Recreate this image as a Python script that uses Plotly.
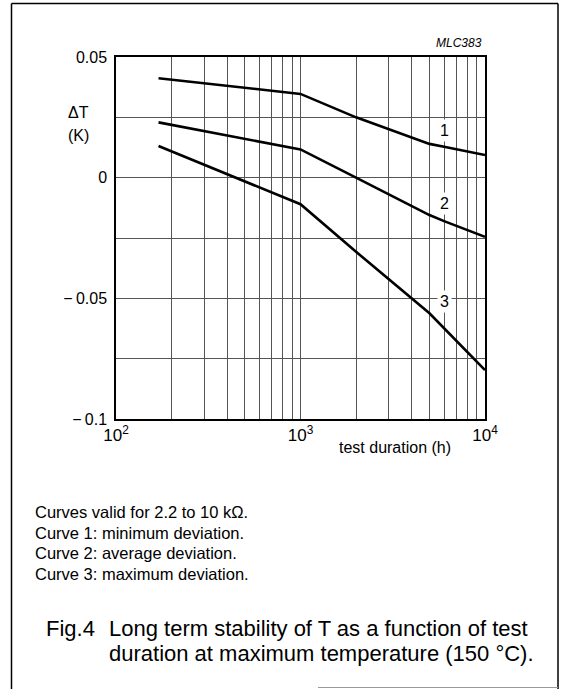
import math
import plotly.graph_objects as go

# Test duration (h) and temperature deviation (K) for the three curves
duration_1 = [170, 1000, 2000, 4000, 5000, 6000, 10000]
delta_t_1 = [0.0412, 0.0347, 0.0250, 0.0165, 0.0140, 0.0128, 0.0094]

duration_2 = [170, 1000, 2000, 4000, 5000, 6000, 10000]
delta_t_2 = [0.0229, 0.0117, 0.0000, -0.0116, -0.0155, -0.0180, -0.0245]

duration_3 = [170, 1000, 2000, 4000, 5000, 10000]
delta_t_3 = [0.0131, -0.0110, -0.0307, -0.0500, -0.0562, -0.0797]

curve_names = ["1", "2", "3"]
label_x = [6000, 6000, 6000]
label_y = [0.0197, -0.0106, -0.0512]

y_tick_vals = [-0.1, -0.075, -0.05, -0.025, 0, 0.025, 0.05]
y_tick_text = ["\u2212\u20090.1", "", "\u2212\u20090.05", "", "0", "", "0.05"]

x_tick_vals = [m * 10 ** e for e in (2, 3) for m in range(1, 10)] + [10000]
x_tick_text = [("10<sup>%d</sup>" % e if m == 1 else "") for e in (2, 3) for m in range(1, 10)] + ["10<sup>4</sup>"]

notes = [
    "Curves valid for 2.2 to 10 k\u03a9.",
    "Curve 1: minimum deviation.",
    "Curve 2: average deviation.",
    "Curve 3: maximum deviation.",
]

W, H = 564, 689
L, R, T, B = 116, 485, 57, 419
FONT = "Liberation Sans, Arial, Helvetica, sans-serif"


def px(x):
    return (x - L) / (R - L)


def py(y):
    return (B - y) / (B - T)


fig = go.Figure()
for xs, ys in ((duration_1, delta_t_1), (duration_2, delta_t_2), (duration_3, delta_t_3)):
    fig.add_trace(go.Scatter(x=xs, y=ys, mode="lines",
                             line=dict(color="black", width=2.6),
                             showlegend=False, hoverinfo="skip"))

# Curve numbers sit on a white patch that interrupts the grid
for name, lx, ly in zip(curve_names, label_x, label_y):
    fig.add_annotation(x=math.log10(lx), y=ly, xref="x", yref="y", text=name, showarrow=False,
                       font=dict(family=FONT, size=16, color="black"),
                       bgcolor="white", borderpad=2)

annotations = [
    dict(x=px(78), y=py(112), text="\u0394T", size=16, xanchor="center"),
    dict(x=px(78), y=py(135), text="(K)", size=16, xanchor="center"),
    dict(x=px(395), y=py(447), text="test duration (h)", size=16, xanchor="center"),
    dict(x=px(484), y=py(43), text="<i>MLC383</i>", size=12, xanchor="right"),
]
for i, line in enumerate(notes):
    annotations.append(dict(x=px(33), y=py(512 + 20.5 * i), text=line, size=16.5, xanchor="left"))
annotations.append(dict(x=px(44), y=py(628), text="Fig.4", size=22, xanchor="left"))
annotations.append(dict(x=px(107), y=py(628), text="Long term stability of T as a function of test",
                        size=22, xanchor="left"))
annotations.append(dict(x=px(107), y=py(653), text="duration at maximum temperature (150 \u00b0C).",
                        size=22, xanchor="left"))
for a in annotations:
    fig.add_annotation(x=a["x"], y=a["y"], xref="paper", yref="paper", text=a["text"],
                       showarrow=False, xanchor=a["xanchor"], yanchor="middle",
                       font=dict(family=FONT, size=a["size"], color="black"))

# Outer frame of the figure
frame = [
    (11.5, 3.5, 558, 3.5, "black", 1.5),
    (11.5, 3.5, 11.5, 689, "black", 1.5),
    (558, 3.5, 558, 689, "black", 1.5),
    (318, 687.5, 558, 687.5, "#999999", 1),
]
for x0, y0, x1, y1, c, w in frame:
    fig.add_shape(type="line", xref="paper", yref="paper",
                  x0=px(x0), y0=py(y0), x1=px(x1), y1=py(y1),
                  line=dict(color=c, width=w))

fig.update_xaxes(type="log", range=[2, 4], tickvals=x_tick_vals, ticktext=x_tick_text,
                 showgrid=True, gridcolor="#555555", gridwidth=1, zeroline=False,
                 showline=True, linecolor="black", linewidth=1.5, mirror=True,
                 ticks="", tickfont=dict(family=FONT, size=17, color="black"))
fig.update_yaxes(range=[-0.1, 0.05], tickvals=y_tick_vals, ticktext=y_tick_text,
                 showgrid=True, gridcolor="#555555", gridwidth=1, zeroline=False,
                 showline=True, linecolor="black", linewidth=1.5, mirror=True,
                 ticks="", ticklabelstandoff=4,
                 tickfont=dict(family=FONT, size=16, color="black"))

fig.update_layout(width=W, height=H, margin=dict(l=L, r=W - R, t=T, b=H - B),
                  paper_bgcolor="white", plot_bgcolor="white",
                  font=dict(family=FONT, color="black"))

fig.write_html("out.html")
